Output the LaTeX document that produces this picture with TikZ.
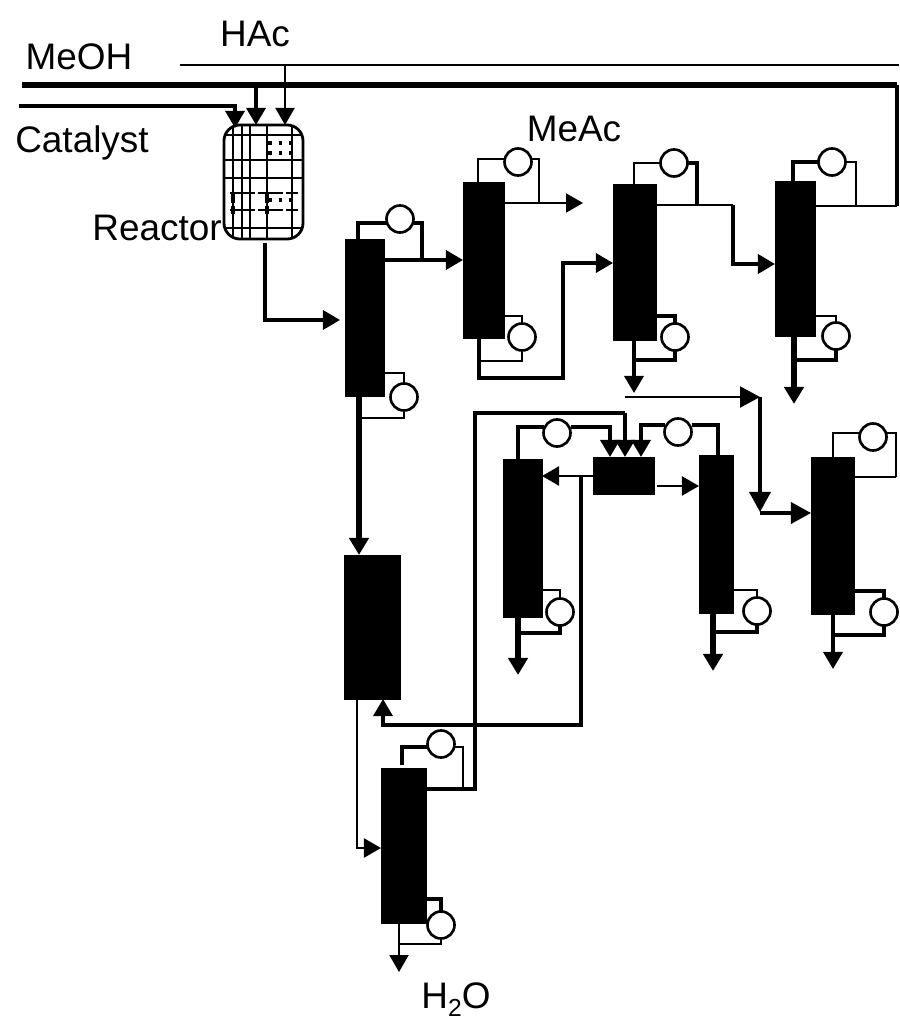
\documentclass[tikz,border=0pt]{standalone}
\usepackage{fontspec}
\setmainfont{Liberation Sans}
\usetikzlibrary{arrows.meta}
\tikzset{every node/.style={align=center, inner sep=0pt, outer sep=0pt}}
\tikzset{label/.style={anchor=base, font=\fontsize{10.5}{12}\selectfont}}
\tikzset{column/.style={draw, fill=black, rectangle, line width=0.2pt}}
\tikzset{exchanger/.style={draw, fill=white, circle, minimum size=0.27cm, line width=0.75pt}}
\tikzset{thinline/.style={line width=0.4pt, black}}
\tikzset{line/.style={line width=0.6pt, black}}
\tikzset{heavy/.style={line width=0.95pt, black}}
\tikzset{main/.style={line width=1.45pt, black}}
\tikzset{tip/.style={-{Triangle[length=1.7mm, width=1.9mm]}}}
\tikzset{bigtip/.style={-{Triangle[length=2mm, width=2.1mm]}}}

\begin{document}
\begin{tikzpicture}[x=0.01cm, y=-0.01cm]
	\useasboundingbox (0,0) rectangle (899,1019);

	% Columns
	\node[column, minimum width=0.39cm, minimum height=1.57cm] (col1) at (364.5,317.5) {};
	\node[column, minimum width=0.41cm, minimum height=1.56cm] (col2) at (483.5,260) {};
	\node[column, minimum width=0.43cm, minimum height=1.56cm] (col3) at (634.5,262) {};
	\node[column, minimum width=0.40cm, minimum height=1.55cm] (col4) at (795,258.5) {};
	\node[column, minimum width=0.39cm, minimum height=1.58cm] (col5) at (522.5,538) {};
	\node[column, minimum width=0.34cm, minimum height=1.58cm] (col6) at (716,534) {};
	\node[column, minimum width=0.45cm, minimum height=1.55cm] (col7) at (403.5,845.5) {};
	\node[column, minimum width=0.43cm, minimum height=1.57cm] (col8) at (832.5,535.5) {};
	\node[column, minimum width=0.56cm, minimum height=1.44cm] (drum) at (372,627) {};
	\node[column, minimum width=0.61cm, minimum height=0.37cm] (mixer) at (623.5,475.5) {};

	% Condensers
	\node[exchanger] (cond1) at (400,219) {};
	\node[exchanger] (cond2) at (518,162) {};
	\node[exchanger] (cond3) at (674,163) {};
	\node[exchanger] (cond4) at (832,162) {};
	\node[exchanger] (cond5) at (557,433) {};
	\node[exchanger] (cond6) at (678,432) {};
	\node[exchanger] (cond7) at (441,744) {};
	\node[exchanger] (cond8) at (873,437) {};

	% Reboilers
	\node[exchanger] (reb1) at (404,397) {};
	\node[exchanger] (reb2) at (522,337) {};
	\node[exchanger] (reb3) at (675,337) {};
	\node[exchanger] (reb4) at (836,336) {};
	\node[exchanger] (reb5) at (560,612) {};
	\node[exchanger] (reb6) at (757,611) {};
	\node[exchanger] (reb7) at (441,925) {};
	\node[exchanger] (reb8) at (884,612) {};

	% Reactor
	\begin{scope}
		\clip[rounded corners=0.16cm] (224,125) rectangle (303,239);
		\foreach \y in {135,160,178,228}
			\draw[line] (224,\y) -- (303,\y);
		\foreach \x in {233,242,250,292}
			\draw[line] (\x,125) -- (\x,239);
		\draw[thinline] (267,125) -- (267,239);
		\foreach \y in {193,210}
			\draw[line, dash pattern=on 7pt off 1pt] (230,\y) -- (298,\y);
		\foreach \y in {143,153,200}
			\draw[heavy, dash pattern=on 1pt off 2pt] (268,\y) -- (298,\y);
		\foreach \x in {233,267}
			\draw[heavy, dash pattern=on 3pt off 1pt] (\x,192) -- (\x,214);
	\end{scope}
	\node[draw, line width=0.8pt, rectangle, rounded corners=0.16cm, minimum width=0.79cm, minimum height=1.14cm] (reactor) at (263.5,182) {};

	% Feeds
	\draw[main] (22,85) -- (897,85);
	\draw[thinline] (180,65) -- (899,65);
	\draw[heavy, tip] (19,106) -| (235,128);
	\draw[heavy, tip] (256,85) -- (256,0 |- reactor.north);
	\draw[line, tip] (285,65) -- (285,0 |- reactor.north);
	\draw[heavy, tip] (265,243) |- (340,320);

	% First column
	\draw[heavy] (358,0 |- col1.north) |- (cond1.west |- 0,223);
	\draw[heavy] (cond1.east |- 0,223) -| (422,259);
	\draw[heavy, tip] (col1.east |- 0,260) -- (col2.west |- 0,260);
	\draw[line] (col1.east |- 0,373) -| (reb1.north);
	\draw[line] (reb1.south) |- (359,418);
	\draw[main, tip] (359,0 |- col1.south) -- (359,0 |- drum.north);

	% Second column
	\draw[line] (478,0 |- col2.north) |- (cond2.west |- 0,159);
	\draw[line] (cond2.east |- 0,159) -| (539,203);
	\draw[line, tip] (col2.east |- 0,203) -- (583,203);
	\draw[line] (col2.east |- 0,316) -| (reb2.north);
	\draw[line] (reb2.south) |- (479,361);
	\draw[heavy, tip] (479,0 |- col2.south) |- (563,378) |- (col3.west |- 0,263);

	% Third column
	\draw[line] (634,0 |- col3.north) |- (cond3.west |- 0,163);
	\draw[heavy] (cond3.east |- 0,163) -| (697,205);
	\draw[line] (col3.east |- 0,205) -- (733,205);
	\draw[heavy, tip] (733,205) |- (col4.west |- 0,264);
	\draw[heavy] (col3.east |- 0,316) -| (reb3.north);
	\draw[heavy] (reb3.south) |- (635,360);
	\draw[heavy, tip] (634,0 |- col3.south) -- (634,393);

	% Fourth column
	\draw[heavy] (793,0 |- col4.north) |- (cond4.west |- 0,162);
	\draw[thinline] (cond4.east |- 0,162) -| (856,206);
	\draw[line] (col4.east |- 0,206) -- (897,206);
	\draw[heavy] (897,206) -- (897,85);
	\draw[line] (col4.east |- 0,316) -| (reb4.north);
	\draw[heavy] (reb4.south) |- (795,360);
	\draw[main, tip] (794,0 |- col4.south) -- (794,404);

	% Side stream
	\draw[line, bigtip] (625,397) -- (760,397);
	\draw[heavy, bigtip] (760,397) -- (760,512);
	\draw[heavy, bigtip] (760,513) -- (col8.west |- 0,513);

	% Fifth column
	\draw[heavy] (518,0 |- col5.north) |- (cond5.west |- 0,427);
	\draw[heavy, tip] (cond5.east |- 0,427) -| (610,0 |- mixer.north);
	\draw[thinline] (col5.east |- 0,590) -| (reb5.north);
	\draw[heavy] (reb5.south) |- (518,633);
	\draw[main, tip] (518,0 |- col5.south) -- (518,675);

	% Mixer
	\draw[line, tip] (mixer.west |- 0,476) -- (col5.east |- 0,476);
	\draw[line, tip] (657,486) -- (col6.west |- 0,486);
	\draw[heavy, tip] (581,476) |- (383,725) -- (383,0 |- drum.south);

	% Sixth column
	\draw[heavy] (718,0 |- col6.north) |- (cond6.east |- 0,425);
	\draw[heavy, tip] (cond6.west |- 0,425) -| (641,0 |- mixer.north);
	\draw[thinline] (col6.east |- 0,590) -| (reb6.north);
	\draw[heavy] (reb6.south) |- (713,632);
	\draw[main, tip] (713,0 |- col6.south) -- (713,671);

	% Seventh column
	\draw[line, tip] (357,0 |- drum.south) |- (col7.west |- 0,848);
	\draw[heavy] (402,765) |- (cond7.west |- 0,747);
	\draw[line] (cond7.east |- 0,747) -| (463,789);
	\draw[heavy] (col7.east |- 0,789) -| (475,413) -- (625,413);
	\draw[heavy, tip] (625,413) -- (625,0 |- mixer.north);
	\draw[heavy] (col7.east |- 0,899) -| (reb7.north);
	\draw[line] (reb7.south) |- (399,944);
	\draw[line, tip] (399,0 |- col7.south) -- (399,972);

	% Eighth column
	\draw[line] (833,0 |- col8.north) |- (cond8.west |- 0,433);
	\draw[line] (cond8.east |- 0,433) -| (896,477);
	\draw[line] (896,477) -- (col8.east |- 0,477);
	\draw[heavy] (col8.east |- 0,591) -| (reb8.north);
	\draw[heavy] (reb8.south) |- (833,635);
	\draw[heavy, tip] (833,0 |- col8.south) -- (833,669);

	% Labels
	\node[label] (meoh) at (79,70) {MeOH};
	\node[label] (hac) at (255,47) {HAc};
	\node[label] (catalyst) at (82,153) {Catalyst};
	\node[label] (reactorlabel) at (157,241) {Reactor};
	\node[label] (meac) at (574,142) {MeAc};
	\node[label] (water) at (456,1008) {H\raisebox{-0.45ex}{\scriptsize 2}O};
\end{tikzpicture}
\end{document}
